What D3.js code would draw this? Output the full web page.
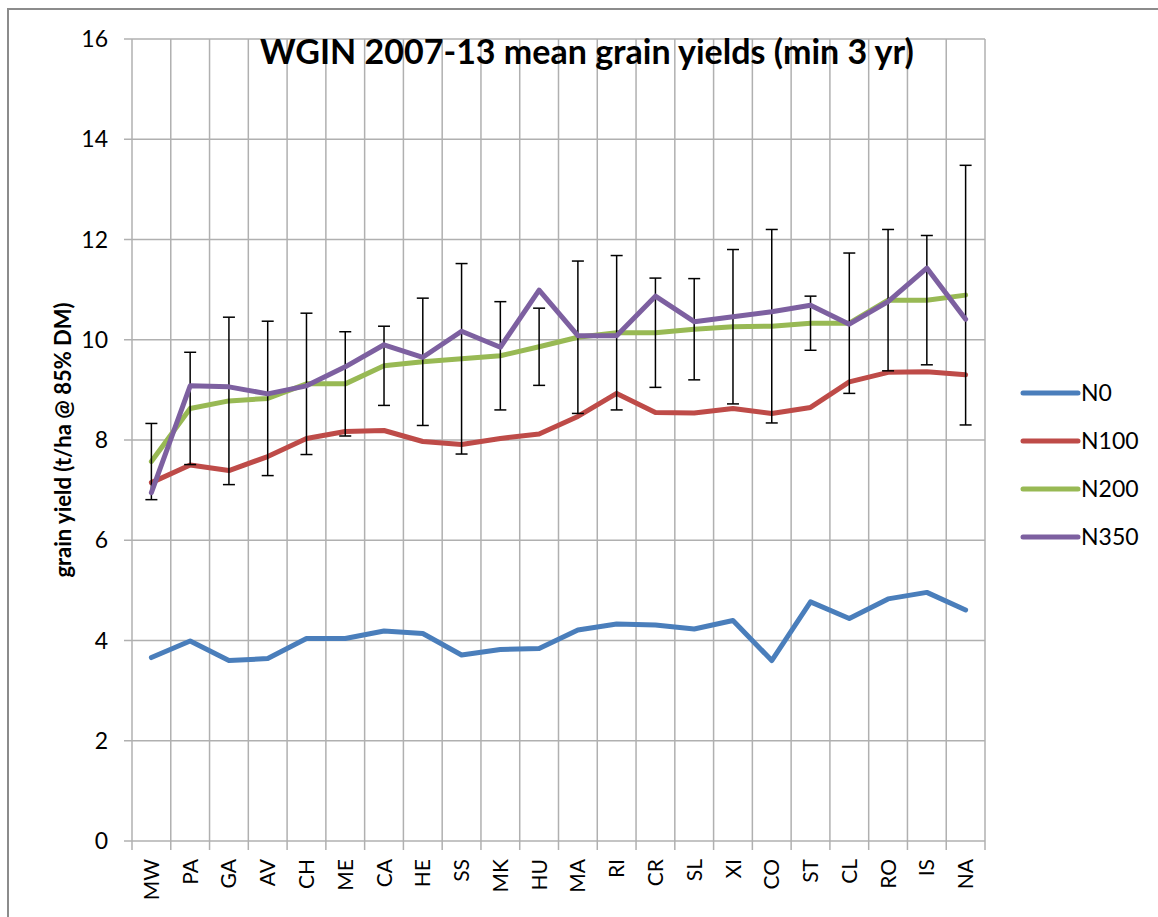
<!DOCTYPE html>
<meta charset="utf-8">
<style>
body { margin: 0; background: #fff; }
text { font-family: Lato, "Liberation Sans", sans-serif; fill: #000; }
</style>
<body>
<svg id="chart" width="1158" height="917"></svg>
<script src="https://cdn.jsdelivr.net/npm/d3@7"></script>
<script>

var sites = ["MW","PA","GA","AV","CH","ME","CA","HE","SS","MK","HU","MA","RI","CR","SL","XI","CO","ST","CL","RO","IS","NA"];

var n0   = [3.66,3.99,3.60,3.64,4.04,4.04,4.19,4.14,3.71,3.82,3.84,4.21,4.33,4.31,4.23,4.40,3.60,4.77,4.44,4.83,4.96,4.61];
var n100 = [7.15,7.50,7.39,7.67,8.03,8.17,8.19,7.97,7.91,8.03,8.12,8.47,8.93,8.55,8.54,8.63,8.53,8.65,9.16,9.35,9.36,9.30];
var n200 = [7.57,8.63,8.78,8.83,9.12,9.12,9.48,9.56,9.62,9.68,9.86,10.05,10.14,10.14,10.21,10.26,10.27,10.33,10.33,10.79,10.79,10.89];
var n350 = [6.95,9.08,9.06,8.92,9.08,9.46,9.90,9.65,10.17,9.85,10.99,10.08,10.08,10.87,10.36,10.46,10.56,10.69,10.31,10.76,11.43,10.41];

// +/- error on the N200 series
var n200err = [0.76,1.12,1.67,1.54,1.41,1.04,0.79,1.27,1.90,1.08,0.77,1.52,1.54,1.09,1.01,1.54,1.93,0.54,1.40,1.41,1.29,2.59];

var yTicks = [0,2,4,6,8,10,12,14,16];

var series = [
  {name: "N0",   values: n0,   color: "#4a7ebb"},
  {name: "N100", values: n100, color: "#be4b48"},
  {name: "N200", values: n200, color: "#98b954"},
  {name: "N350", values: n350, color: "#7d60a0"}
];

var svg = d3.select("#chart");

var x = d3.scaleBand().domain(sites).range([132, 985]);
var y = d3.scaleLinear().domain([0, 16]).range([841, 39]);

// outer chart border
svg.append("rect")
    .attr("x", 8).attr("y", 9)
    .attr("width", 1200).attr("height", 1000)
    .attr("fill", "none")
    .attr("stroke", "#8c8c8c")
    .attr("stroke-width", 2);

var grid = svg.append("g").attr("stroke", "#b0b0b0").attr("stroke-width", 1.5);

// horizontal gridlines (with small outside tick)
grid.selectAll(".hg")
  .data(yTicks)
  .enter().append("line")
    .attr("x1", x.range()[0] - 8)
    .attr("x2", x.range()[1])
    .attr("y1", d => y(d))
    .attr("y2", d => y(d));

// vertical gridlines at category boundaries
var bounds = sites.map(d => x(d)).concat([x.range()[1]]);
grid.selectAll(".vg")
  .data(bounds)
  .enter().append("line")
    .attr("x1", d => d)
    .attr("x2", d => d)
    .attr("y1", y(16))
    .attr("y2", y(0) + 9);

// y tick labels
svg.append("g").selectAll("text")
  .data(yTicks)
  .enter().append("text")
    .attr("x", 108)
    .attr("y", d => y(d))
    .attr("dy", "0.35em")
    .attr("text-anchor", "end")
    .style("font-size", "23px")
    .text(d => d);

// x tick labels, rotated
svg.append("g").selectAll("text")
  .data(sites)
  .enter().append("text")
    .attr("transform", d => "translate(" + (x(d) + x.bandwidth() / 2) + "," + (y(0) + 18) + ") rotate(-90)")
    .attr("dy", "0.36em")
    .attr("text-anchor", "end")
    .style("font-size", "21px")
    .text(d => d);

var line = d3.line()
    .x((d, i) => x(sites[i]) + x.bandwidth() / 2)
    .y(d => y(d));

function drawSeries(s) {
  svg.append("path")
      .datum(s.values)
      .attr("fill", "none")
      .attr("stroke", s.color)
      .attr("stroke-width", 5)
      .attr("stroke-linejoin", "round")
      .attr("stroke-linecap", "round")
      .attr("d", line);
}

drawSeries(series[0]);
drawSeries(series[1]);
drawSeries(series[2]);

// error bars on N200
var eb = svg.append("g").attr("stroke", "#000").attr("stroke-width", 1.5);
sites.forEach(function(s, i) {
  var cx = x(s) + x.bandwidth() / 2,
      hi = y(n200[i] + n200err[i]),
      lo = y(n200[i] - n200err[i]);
  eb.append("line").attr("x1", cx).attr("x2", cx).attr("y1", hi).attr("y2", lo);
  eb.append("line").attr("x1", cx - 6).attr("x2", cx + 6).attr("y1", hi).attr("y2", hi);
  eb.append("line").attr("x1", cx - 6).attr("x2", cx + 6).attr("y1", lo).attr("y2", lo);
});

drawSeries(series[3]);

// title
svg.append("text")
    .attr("x", 587)
    .attr("y", 64)
    .attr("text-anchor", "middle")
    .style("font-size", "34px")
    .style("font-weight", "bold")
    .text("WGIN 2007-13 mean grain yields (min 3 yr)");

// y axis title
svg.append("text")
    .attr("transform", "translate(63,440) rotate(-90)")
    .attr("text-anchor", "middle")
    .attr("dy", "0.35em")
    .style("font-size", "22px")
    .style("font-weight", "bold")
    .text("grain yield (t/ha @ 85% DM)");

// legend
var legend = svg.append("g").selectAll("g")
  .data(series)
  .enter().append("g")
    .attr("transform", (d, i) => "translate(1023," + (393 + i * 48) + ")");

legend.append("line")
    .attr("x1", 0).attr("x2", 55)
    .attr("stroke", d => d.color)
    .attr("stroke-width", 5)
    .attr("stroke-linecap", "round");

legend.append("text")
    .attr("x", 58)
    .attr("dy", "0.36em")
    .style("font-size", "23px")
    .text(d => d.name);

</script>
</body>
